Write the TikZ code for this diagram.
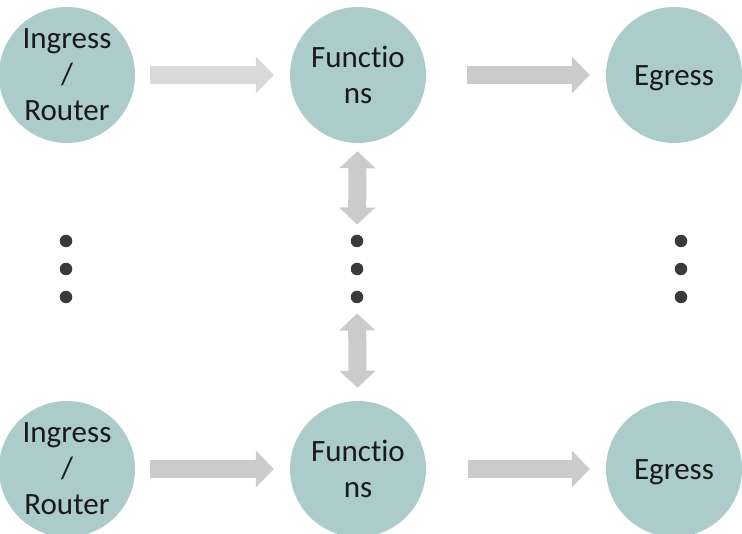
\documentclass[tikz,border=0pt]{standalone}
\usepackage{fontspec}
\setmainfont[Ligatures={NoCommon}]{Carlito}
\usetikzlibrary{arrows.meta}
\definecolor{circfill}{RGB}{172,203,203}
\definecolor{arrlight}{RGB}{217,217,217}
\definecolor{arrmid}{RGB}{203,203,203}
\definecolor{dotcol}{RGB}{58,58,58}
\tikzset{
  ball/.style={circle, fill=circfill, minimum size=136pt, inner sep=0pt, align=center,
    font=\fontsize{31pt}{36pt}\selectfont, text=black!90},
  blockarrow/.style={line width=18pt, -{Triangle[length=18pt,width=36pt]}},
  dblarrow/.style={line width=18pt, {Triangle[length=17pt,width=35pt]}-{Triangle[length=17pt,width=35pt]}, draw=arrmid},
  bigdot/.style={circle, fill=dotcol, minimum size=12.5pt, inner sep=0pt}
}
\begin{document}
\begin{tikzpicture}[x=1pt,y=-1pt]
\useasboundingbox (0,0) rectangle (742,534);
% top row
\node[ball] (in1) at (67,75) {Ingress\\/\\Router};
\node[ball] (fn1) at (358,75) {Funct\kern0pt io\\ns};
\node[ball] (eg1) at (674,75) {\raisebox{-3pt}[\height][\depth]{Egress}};
% bottom row
\node[ball] (in2) at (67,469) {Ingress\\/\\Router};
\node[ball] (fn2) at (358,469) {Funct\kern0pt io\\ns};
\node[ball] (eg2) at (674,469) {\raisebox{-3pt}[\height][\depth]{Egress}};
% dots
\foreach \n/\x in {l/66,m/357,r/681}{
  \node[bigdot] (\n1) at (\x,241) {};
  \node[bigdot] (\n2) at (\x,269) {};
  \node[bigdot] (\n3) at (\x,297) {};
}
% horizontal arrows
\draw[blockarrow, draw=arrlight, shorten <=15pt, shorten >=16pt] (in1) -- (fn1);
\draw[blockarrow, draw=arrmid, shorten <=41pt, shorten >=16pt] (fn1) -- (eg1);
\draw[blockarrow, draw=arrmid, shorten <=15pt, shorten >=16pt] (in2) -- (fn2);
\draw[blockarrow, draw=arrmid, shorten <=42pt, shorten >=16pt] (fn2) -- (eg2);
% vertical double arrows
\draw[dblarrow, shorten <=8pt, shorten >=10pt] (fn1) -- (m1);
\draw[dblarrow, shorten <=10pt, shorten >=13pt] (m3) -- (fn2);
\end{tikzpicture}
\end{document}
